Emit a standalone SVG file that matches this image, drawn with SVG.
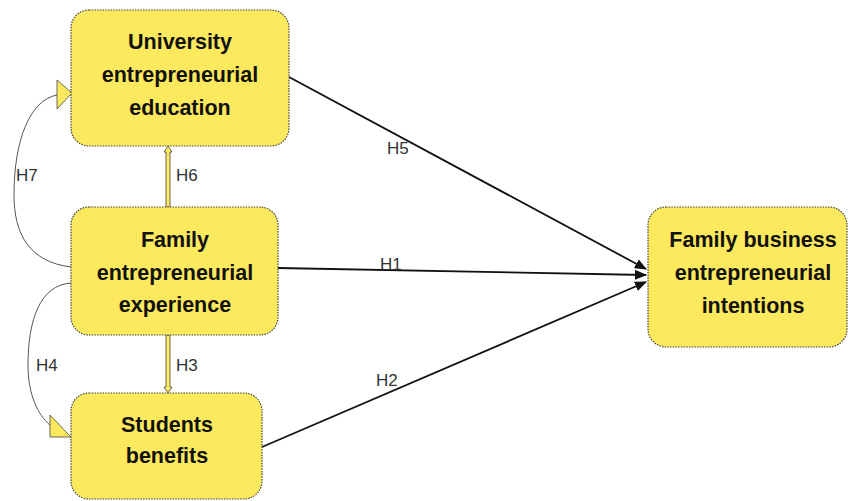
<svg xmlns="http://www.w3.org/2000/svg" width="848" height="501" viewBox="0 0 848 501">
<defs>
<style>
.box{fill:#FCE95E;stroke:#444;stroke-width:1.2;stroke-dasharray:1.5 1.2}
.t{font-family:"Liberation Sans",Arial,sans-serif;font-weight:bold;font-size:21.5px;fill:#111;text-anchor:middle}
.lbl{font-family:"Liberation Sans",Arial,sans-serif;font-size:17px;fill:#333}
.ln{fill:none;stroke:#111;stroke-width:1.8}
.cv{fill:none;stroke:#555;stroke-width:1}
.ya{fill:#FCE95E;stroke:#444;stroke-width:0.8}
</style>
<marker id="ah" viewBox="0 0 12 10" refX="11" refY="5" markerWidth="12" markerHeight="10" markerUnits="userSpaceOnUse" orient="auto">
<path d="M0,0 L12,5 L0,10 z" fill="#111"/>
</marker>
</defs>
<rect width="848" height="501" fill="#fff"/>
<g id="connectors">
<line class="ln" x1="289" y1="77" x2="646" y2="269" marker-end="url(#ah)"/>
<line class="ln" x1="278" y1="268" x2="646" y2="275" marker-end="url(#ah)"/>
<line class="ln" x1="262" y1="447" x2="646" y2="282" marker-end="url(#ah)"/>
<polygon class="ya" points="166,207 166,152 164,152 168,146 172,152 170,152 170,207"/>
<polygon class="ya" points="166,335 166,387 164,387 168,393 172,387 170,387 170,335"/>
<path class="cv" d="M71,267 C30,262 14,235 14,195 C14,140 30,100 57,95"/>
<polygon class="ya" points="57,80 57,109 72,93"/>
<path class="cv" d="M71,283 C40,285 28,320 28,365 C28,395 38,415 50,425"/>
<polygon class="ya" points="50,415 50,437 71,437"/>
</g>
<g id="labels">
<text class="lbl" x="387" y="154">H5</text>
<text class="lbl" x="380" y="270">H1</text>
<text class="lbl" x="376" y="386">H2</text>
<text class="lbl" x="176" y="181">H6</text>
<text class="lbl" x="16" y="181">H7</text>
<text class="lbl" x="176" y="371">H3</text>
<text class="lbl" x="36" y="371">H4</text>
</g>
<g id="n-university">
<rect class="box" x="71" y="10" width="218" height="136" rx="18"/>
<text class="t" x="180" y="49">University</text>
<text class="t" x="180" y="82">entrepreneurial</text>
<text class="t" x="180" y="115">education</text>
</g>
<g id="n-family">
<rect class="box" x="71" y="207" width="207" height="128" rx="18"/>
<text class="t" x="175" y="247">Family</text>
<text class="t" x="175" y="280">entrepreneurial</text>
<text class="t" x="175" y="312">experience</text>
</g>
<g id="n-students">
<rect class="box" x="71" y="393" width="191" height="106" rx="18"/>
<text class="t" x="167" y="432">Students</text>
<text class="t" x="167" y="463">benefits</text>
</g>
<g id="n-intentions">
<rect class="box" x="648" y="207" width="199" height="140" rx="18"/>
<text class="t" x="753" y="247">Family business</text>
<text class="t" x="753" y="280">entrepreneurial</text>
<text class="t" x="753" y="313">intentions</text>
</g>
</svg>
